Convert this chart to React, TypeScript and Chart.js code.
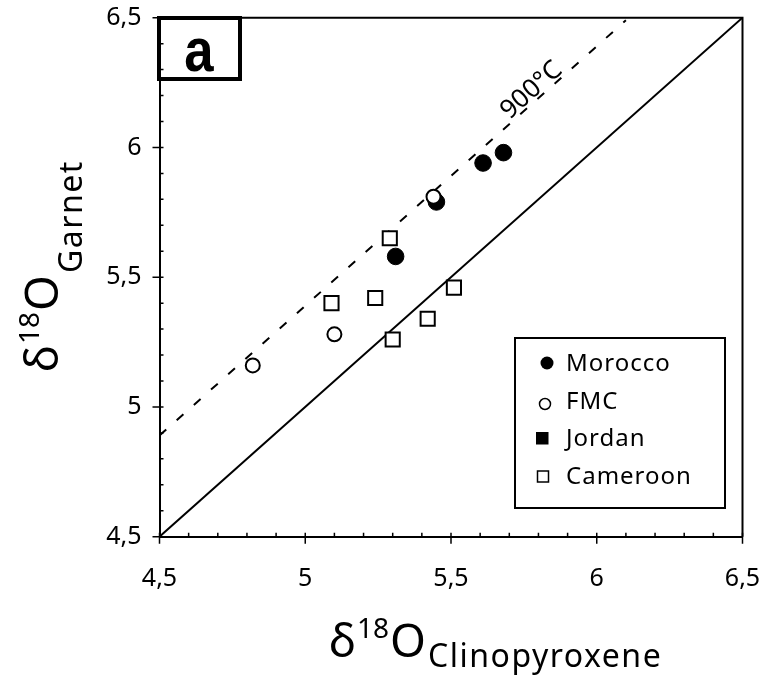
import React, { useEffect, useRef } from 'react';
import { Chart, registerables } from 'chart.js';

Chart.register(...registerables);

// ---- data ----
const moroccoX = [5.61, 5.68, 5.45, 5.31];
const moroccoY = [5.94, 5.98, 5.79, 5.58];
const fmcX = [5.44, 5.10, 4.82];
const fmcY = [5.81, 5.28, 5.16];
const jordanX: number[] = [];
const jordanY: number[] = [];
const cameroonX = [5.29, 5.09, 5.24, 5.51, 5.42, 5.30];
const cameroonY = [5.65, 5.40, 5.42, 5.46, 5.34, 5.26];
const equalLineX = [4.5, 6.5];
const equalLineY = [4.5, 6.5];
const isothermX = [4.5, 6.1];
const isothermY = [4.89, 6.49];
const isothermLabel = '900°C';
const axisTicks = [4.5, 5, 5.5, 6, 6.5];
const legendLabels = ['Morocco', 'FMC', 'Jordan', 'Cameroon'];
const panelLabel = 'a';

const FONT = '"Noto Sans", "DejaVu Sans", sans-serif';

const toPts = (xs: number[], ys: number[]) => xs.map((x, i) => ({ x, y: ys[i] }));
const fmt = (v: number) => (Number.isInteger(v) ? String(v) : v.toFixed(1).replace('.', ','));

const decorPlugin = {
  id: 'decor',
  afterDraw(chart: any) {
    const ctx: CanvasRenderingContext2D = chart.ctx;
    const xs = chart.scales.x;
    const ys = chart.scales.y;
    const ca = chart.chartArea;
    ctx.save();
    ctx.strokeStyle = '#000';
    ctx.fillStyle = '#000';

    // top/right frame
    ctx.lineWidth = 2;
    ctx.beginPath();
    ctx.moveTo(ca.left, ca.top);
    ctx.lineTo(ca.right, ca.top);
    ctx.lineTo(ca.right, ca.bottom);
    ctx.stroke();

    // panel label box
    ctx.fillStyle = '#fff';
    ctx.fillRect(159, 18, 81, 61);
    ctx.lineWidth = 4;
    ctx.strokeRect(159, 18, 81, 61);
    ctx.fillStyle = '#000';
    ctx.save();
    ctx.translate(199, 71);
    ctx.scale(0.85, 1);
    ctx.font = 'bold 62px "Liberation Sans", Arial, sans-serif';
    ctx.textAlign = 'center';
    ctx.textBaseline = 'alphabetic';
    ctx.fillText(panelLabel, 0, 0);
    ctx.restore();

    // tick marks
    ctx.lineWidth = 1.5;
    for (let i = 0; i <= 20; i++) {
      const v = 4.5 + i * 0.1;
      const major = i % 5 === 0;
      const px = xs.getPixelForValue(v);
      const py = ys.getPixelForValue(v);
      ctx.beginPath();
      ctx.moveTo(px, ca.bottom - 4);
      ctx.lineTo(px, ca.bottom + (major ? 7 : 0));
      ctx.moveTo(ca.left + 4, py);
      ctx.lineTo(ca.left - (major ? 7 : 0), py);
      ctx.stroke();
    }

    // isotherm label
    const ax = 5.8;
    const ay = isothermY[0] + (ax - isothermX[0]) * (isothermY[1] - isothermY[0]) / (isothermX[1] - isothermX[0]);
    const p0x = xs.getPixelForValue(isothermX[0]);
    const p0y = ys.getPixelForValue(isothermY[0]);
    const p1x = xs.getPixelForValue(isothermX[1]);
    const p1y = ys.getPixelForValue(isothermY[1]);
    const ang = Math.atan2(p1y - p0y, p1x - p0x);
    ctx.save();
    ctx.translate(xs.getPixelForValue(ax), ys.getPixelForValue(ay));
    ctx.rotate(ang);
    ctx.font = `26px ${FONT}`;
    ctx.textAlign = 'center';
    ctx.textBaseline = 'alphabetic';
    ctx.fillText(isothermLabel, 0, -3);
    ctx.restore();

    // axis titles
    const drawTitle = (sub: string, subGap: number) => {
      let x = 0;
      ctx.textAlign = 'left';
      ctx.textBaseline = 'alphabetic';
      ctx.font = `46px ${FONT}`;
      ctx.fillText('δ', x, 0);
      x += ctx.measureText('δ').width + 1;
      ctx.font = `28px ${FONT}`;
      ctx.fillText('18', x, -19);
      x += ctx.measureText('18').width + 1;
      ctx.font = `46px ${FONT}`;
      ctx.fillText('O', x, 0);
      x += ctx.measureText('O').width + 2;
      ctx.font = `32px ${FONT}`;
      (ctx as any).letterSpacing = '1.5px';
      ctx.fillText(sub, x, subGap);
      (ctx as any).letterSpacing = '0px';
    };
    ctx.save();
    ctx.translate(329, 657);
    drawTitle('Clinopyroxene', 10);
    ctx.restore();
    ctx.save();
    ctx.translate(58, 372);
    ctx.rotate(-Math.PI / 2);
    drawTitle('Garnet', 24);
    ctx.restore();

    // legend
    const lx = 515, ly = 338, lw = 210, lh = 170;
    ctx.fillStyle = '#fff';
    ctx.fillRect(lx, ly, lw, lh);
    ctx.lineWidth = 2;
    ctx.strokeStyle = '#000';
    ctx.strokeRect(lx, ly, lw, lh);
    const rows = [363, 401, 438, 476];
    ctx.font = `24px ${FONT}`;
    (ctx as any).letterSpacing = '1px';
    ctx.textAlign = 'left';
    ctx.textBaseline = 'middle';
    legendLabels.forEach((lab, i) => {
      const cy = rows[i];
      ctx.fillStyle = '#000';
      ctx.lineWidth = 1.5;
      ctx.beginPath();
      if (i === 0) {
        ctx.arc(547, cy, 6.5, 0, Math.PI * 2);
        ctx.fill();
      } else if (i === 1) {
        ctx.arc(545, cy + 3, 5.5, 0, Math.PI * 2);
        ctx.fillStyle = '#fff';
        ctx.fill();
        ctx.stroke();
      } else if (i === 2) {
        ctx.fillRect(536, cy - 6, 12.5, 12.5);
      } else {
        ctx.fillStyle = '#fff';
        ctx.fillRect(537.5, cy - 5, 11, 11);
        ctx.strokeRect(537.5, cy - 5, 11, 11);
      }
      ctx.fillStyle = '#000';
      ctx.fillText(lab, 566, cy + 1);
    });
    (ctx as any).letterSpacing = '0px';
    ctx.restore();
  },
};

const zeroPad = (s: any) => {
  s.paddingLeft = 0;
  s.paddingRight = 0;
  s.paddingTop = 0;
  s.paddingBottom = 0;
};

export default function App() {
  const canvasRef = useRef<HTMLCanvasElement>(null);

  useEffect(() => {
    if (!canvasRef.current) return;
    const chart = new Chart(canvasRef.current, {
      type: 'scatter',
      data: {
        datasets: [
          {
            label: '1:1',
            data: toPts(equalLineX, equalLineY),
            showLine: true,
            borderColor: '#000',
            borderWidth: 2,
            pointRadius: 0,
            order: 10,
          },
          {
            label: isothermLabel,
            data: toPts(isothermX, isothermY),
            showLine: true,
            borderColor: '#000',
            borderWidth: 2,
            borderDash: [9, 14],
            pointRadius: 0,
            order: 9,
          },
          {
            label: legendLabels[0],
            data: toPts(moroccoX, moroccoY),
            pointStyle: 'circle',
            pointRadius: 8.3,
            backgroundColor: '#000',
            borderColor: '#000',
            borderWidth: 1,
            order: 3,
          },
          {
            label: legendLabels[2],
            data: toPts(jordanX, jordanY),
            pointStyle: 'rect',
            pointRadius: 10,
            backgroundColor: '#000',
            borderColor: '#000',
            borderWidth: 2,
            order: 4,
          },
          {
            label: legendLabels[3],
            data: toPts(cameroonX, cameroonY),
            pointStyle: 'rect',
            pointRadius: 10,
            backgroundColor: '#fff',
            borderColor: '#000',
            borderWidth: 2,
            order: 2,
          },
          {
            label: legendLabels[1],
            data: toPts(fmcX, fmcY),
            pointStyle: 'circle',
            pointRadius: 7,
            backgroundColor: '#fff',
            borderColor: '#000',
            borderWidth: 2,
            order: 1,
          },
        ],
      },
      options: {
        animation: false,
        responsive: true,
        maintainAspectRatio: false,
        layout: { padding: { left: 0, top: 17.7, right: 25.5, bottom: 0 } },
        plugins: { legend: { display: false }, tooltip: { enabled: false } },
        scales: {
          x: {
            type: 'linear',
            min: 4.5,
            max: 6.5,
            afterBuildTicks: (s: any) => {
              s.ticks = axisTicks.map((v) => ({ value: v }));
            },
            afterFit: (s: any) => {
              s.height = 150.3;
              zeroPad(s);
            },
            ticks: {
              callback: (v: any) => fmt(Number(v)),
              color: '#000',
              font: { family: FONT, size: 25 },
              padding: 27,
              maxRotation: 0,
            },
            grid: { display: false, drawTicks: false },
            border: { display: true, color: '#000', width: 2 },
          },
          y: {
            type: 'linear',
            min: 4.5,
            max: 6.5,
            afterBuildTicks: (s: any) => {
              s.ticks = axisTicks.map((v) => ({ value: v }));
            },
            afterFit: (s: any) => {
              s.width = 159.5;
              zeroPad(s);
            },
            ticks: {
              callback: (v: any) => fmt(Number(v)),
              color: '#000',
              font: { family: FONT, size: 25 },
              padding: 18,
            },
            grid: { display: false, drawTicks: false },
            border: { display: true, color: '#000', width: 2 },
          },
        },
      },
      plugins: [decorPlugin],
    });
    return () => chart.destroy();
  }, []);

  return (
    <div style={{ position: 'fixed', left: 0, top: 0, width: 768, height: 687, background: '#fff' }}>
      <canvas ref={canvasRef} />
    </div>
  );
}
